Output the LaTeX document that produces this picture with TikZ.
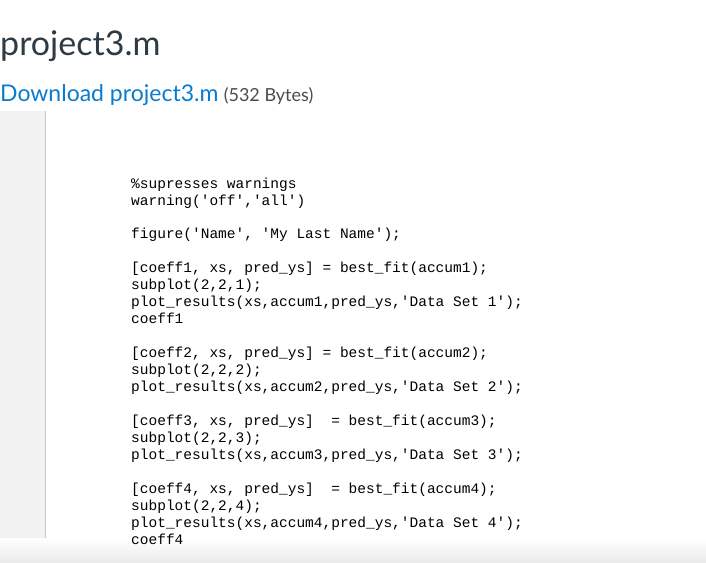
\documentclass[tikz,border=0pt]{standalone}
\usepackage{fontspec}
\setmainfont{Lato}
\newfontfamily\codefont{Liberation Mono}
\definecolor{linkblue}{HTML}{0A7CD0}
\definecolor{titlegray}{HTML}{2D3B45}
\definecolor{stripgray}{HTML}{F2F2F2}
\definecolor{bordergray}{HTML}{C8C8C8}
\begin{document}
\begin{tikzpicture}[x=1pt,y=-1pt,
  code/.style={anchor=base west,inner sep=0pt,font=\codefont\fontsize{14.5}{17}\selectfont,text=black}]
\useasboundingbox (0,0) rectangle (706,562);
\fill[white] (0,0) rectangle (706,562);
\fill[stripgray] (0,111) rectangle (45,562);
\draw[bordergray] (45.5,111) -- (45.5,562);
\shade[top color=white,bottom color=black!8] (0,538) rectangle (706,562);
\node[anchor=base west,inner sep=0pt,font=\fontsize{34}{40}\selectfont,text=titlegray] (title) at (0,55) {project3.m};
\node[anchor=base west,inner sep=0pt,font=\fontsize{23}{28}\selectfont,text=linkblue] (dl) at (0,101) {Download project3.m};
\node[anchor=base west,inner sep=0pt,font=\fontsize{18}{22}\selectfont,text=black!70] (bytes) at ([xshift=5pt]dl.base east) {(532 Bytes)};
\foreach \y/\t in {188/{\%supresses warnings},
205/{warning('off','all')},
238/{figure('Name', 'My Last Name');},
272/{[coeff1, xs, pred\_ys] = best\_fit(accum1);},
289/{subplot(2,2,1);},
306/{plot\_results(xs,accum1,pred\_ys,'Data Set 1');},
323/{coeff1},
357/{[coeff2, xs, pred\_ys] = best\_fit(accum2);},
374/{subplot(2,2,2);},
391/{plot\_results(xs,accum2,pred\_ys,'Data Set 2');},
425/{[coeff3, xs, pred\_ys]\ \ = best\_fit(accum3);},
442/{subplot(2,2,3);},
459/{plot\_results(xs,accum3,pred\_ys,'Data Set 3');},
493/{[coeff4, xs, pred\_ys]\ \ = best\_fit(accum4);},
510/{subplot(2,2,4);},
527/{plot\_results(xs,accum4,pred\_ys,'Data Set 4');},
544/{coeff4}}
  \node[code] (l\y) at (131,\y) {\t};
\end{tikzpicture}
\end{document}
